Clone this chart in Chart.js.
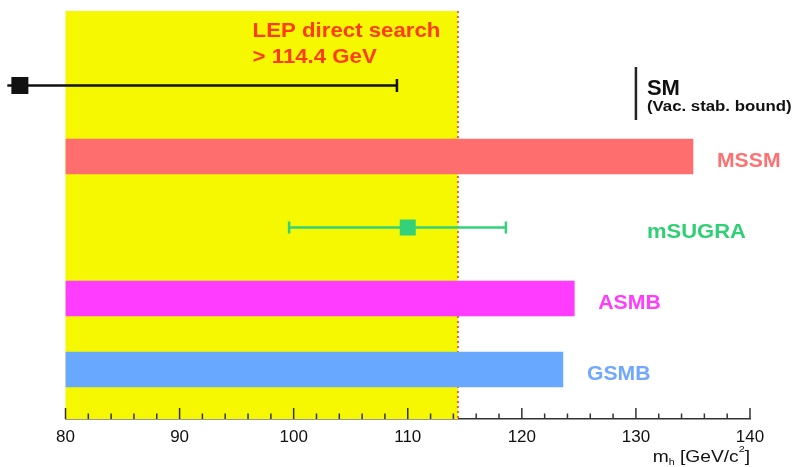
<!DOCTYPE html>
<html>
<head>
<meta charset="utf-8">
<script src="https://cdn.jsdelivr.net/npm/chart.js@4/dist/chart.umd.min.js"></script>
<style>
  html, body { margin: 0; padding: 0; background: #ffffff; }
  #wrap { width: 797px; height: 467px; position: relative; }
</style>
</head>
<body>
<div id="wrap"><canvas id="c" width="797" height="467"></canvas></div>
<script>
// ---------- data ----------
const rows = ['SM', 'MSSM', 'mSUGRA', 'ASMB', 'GSMB'];
const barModels = ['MSSM', 'ASMB', 'GSMB'];
const barStart = [80, 80, 80];
const barEnd = [135.0, 124.6, 123.6];
const pointModels = ['SM', 'mSUGRA'];
const pointValue = [76.0, 110.0];
const errLow = [74.9, 99.6];
const errHigh = [109.05, 118.6];
const smBound = 130;
const lepLimit = 114.4;
const xMin = 80, xMax = 140;
const majorStep = 10, minorStep = 2;
const lepText = ['LEP direct search', '> 114.4 GeV'];
const smSubText = '(Vac. stab. bound)';

// ---------- styles ----------
const rowColors = { SM: '#111111', MSSM: '#ff6e6e', mSUGRA: '#33d27a', ASMB: '#ff3cff', GSMB: '#68a8ff' };
const labelColors = { SM: '#111111', MSSM: '#ff7070', mSUGRA: '#2fcf74', ASMB: '#ff3cff', GSMB: '#70a8ff' };
const markerSize = { SM: 17, mSUGRA: 16 };
const FONT = "'Liberation Sans', Arial, Helvetica, sans-serif";

const rowIdx = m => rows.indexOf(m);

function stretchText(ctx, text, x, y, font, color, sx, align) {
  ctx.save();
  ctx.font = font;
  ctx.fillStyle = color;
  ctx.textBaseline = 'alphabetic';
  const w = ctx.measureText(text).width * sx;
  let x0 = x;
  if (align === 'right') x0 = x - w;
  else if (align === 'center') x0 = x - w / 2;
  ctx.translate(x0, y);
  ctx.scale(sx, 1);
  ctx.textAlign = 'left';
  ctx.fillText(text, 0, 0);
  ctx.restore();
  return w;
}

const decor = {
  id: 'decor',
  beforeDatasetsDraw(chart) {
    const { ctx, chartArea: a, scales: { x } } = chart;
    const x0 = x.getPixelForValue(xMin);
    const x1 = x.getPixelForValue(lepLimit);
    ctx.save();
    ctx.fillStyle = '#f5f800';
    ctx.fillRect(x0, a.top, x1 - x0, a.bottom - a.top);
    ctx.strokeStyle = '#ff5a3a';
    ctx.lineWidth = 2;
    ctx.setLineDash([2, 3]);
    ctx.beginPath();
    ctx.moveTo(x1, a.top);
    ctx.lineTo(x1, a.bottom);
    ctx.stroke();
    ctx.restore();
  },
  afterDatasetsDraw(chart) {
    const { ctx, chartArea: a, scales: { x, y } } = chart;
    ctx.save();
    // central-value markers (square), placed through the scales
    pointModels.forEach((m, i) => {
      const px = x.getPixelForValue(pointValue[i]);
      const py = y.getPixelForValue(rowIdx(m));
      const s = markerSize[m];
      ctx.fillStyle = rowColors[m];
      ctx.fillRect(px - s / 2, py - s / 2, s, s);
    });
    // upward ticks on the x axis
    ctx.strokeStyle = '#333333';
    ctx.lineWidth = 1.5;
    for (let v = xMin; v <= xMax + 1e-9; v += minorStep) {
      const px = x.getPixelForValue(v);
      const major = Math.abs(v / majorStep - Math.round(v / majorStep)) < 1e-6;
      ctx.beginPath();
      ctx.moveTo(px, a.bottom);
      ctx.lineTo(px, a.bottom - (major ? 11 : 5.5));
      ctx.stroke();
    }
    // SM vacuum stability bound marker
    const ySM = y.getPixelForValue(rowIdx('SM'));
    const xSM = x.getPixelForValue(smBound);
    ctx.strokeStyle = '#222222';
    ctx.lineWidth = 2.5;
    ctx.beginPath();
    ctx.moveTo(xSM, ySM - 18.5);
    ctx.lineTo(xSM, ySM + 34.5);
    ctx.stroke();
    ctx.restore();

    // LEP text
    const lx = x.getPixelForValue(96.4);
    stretchText(ctx, lepText[0], lx, a.top + 26, 'bold 19.5px ' + FONT, '#ff3b14', 1.14, 'left');
    stretchText(ctx, lepText[1], lx, a.top + 52, 'bold 19.5px ' + FONT, '#ff3b14', 1.14, 'left');

    // row labels
    stretchText(ctx, 'SM', xSM + 11, ySM + 9.5, 'bold 22px ' + FONT, labelColors.SM, 1.0, 'left');
    stretchText(ctx, smSubText, xSM + 11, ySM + 25.5, 'bold 14px ' + FONT, labelColors.SM, 1.2, 'left');
    const yMS = y.getPixelForValue(rowIdx('mSUGRA'));
    stretchText(ctx, 'mSUGRA', xSM + 11, yMS + 11, 'bold 20px ' + FONT, labelColors.mSUGRA, 1.1, 'left');
    barModels.forEach((m, i) => {
      const px = x.getPixelForValue(barEnd[i]) + 24;
      const py = y.getPixelForValue(rowIdx(m)) + 10.5;
      stretchText(ctx, m, px, py, 'bold 20px ' + FONT, labelColors[m], 1.06, 'left');
    });

    // axis title m_h [GeV/c^2], right aligned at axis end
    const right = x.getPixelForValue(xMax);
    const base = 462;
    const parts = [
      { t: 'm', f: '16px ' + FONT, dy: 0 },
      { t: 'h', f: '9px ' + FONT, dy: 3 },
      { t: ' [GeV/c', f: '16px ' + FONT, dy: 0 },
      { t: '2', f: '9px ' + FONT, dy: -10 },
      { t: ']', f: '16px ' + FONT, dy: 0 }
    ];
    const sx = 1.2;
    let total = 0;
    ctx.save();
    parts.forEach(p => { ctx.font = p.f; p.w = ctx.measureText(p.t).width * sx; total += p.w; });
    ctx.restore();
    let cx = right - total;
    parts.forEach(p => { stretchText(ctx, p.t, cx, base + p.dy, p.f, '#111111', sx, 'left'); cx += p.w; });
  }
};

const datasets = [
  {
    type: 'bar',
    indexAxis: 'y',
    data: barModels.map((m, i) => ({ x: [barStart[i], barEnd[i]], y: rowIdx(m) })),
    backgroundColor: barModels.map(m => rowColors[m]),
    borderWidth: 0,
    borderSkipped: false,
    barThickness: 35,
    order: 3
  }
];
pointModels.forEach((m, i) => {
  datasets.push({
    type: 'line',
    data: [{ x: errLow[i], y: rowIdx(m) }, { x: errHigh[i], y: rowIdx(m) }],
    borderColor: rowColors[m],
    borderWidth: 2.5,
    pointStyle: 'line',
    rotation: 90,
    pointRadius: m === 'SM' ? [0, 6.5] : [6, 6],
    pointBorderWidth: 2.5,
    pointBorderColor: rowColors[m],
    pointHoverRadius: 0,
    fill: false,
    clip: false,
    order: 2
  });
});

new Chart(document.getElementById('c'), {
  type: 'scatter',
  data: { datasets },
  plugins: [decor],
  options: {
    responsive: false,
    animation: false,
    events: [],
    layout: { padding: { left: 65.5, right: 47, top: 11, bottom: 0 } },
    plugins: { legend: { display: false }, tooltip: { enabled: false } },
    scales: {
      x: {
        type: 'linear',
        min: xMin, max: xMax,
        offset: false,
        afterFit(scale) { scale.height = 48; },
        grid: { display: false, drawTicks: false },
        border: { display: true, color: '#333333', width: 1.5 },
        ticks: {
          stepSize: majorStep,
          autoSkip: false,
          maxRotation: 0,
          padding: 8,
          color: '#111111',
          font: { family: FONT, size: 17 }
        }
      },
      y: {
        type: 'linear',
        display: false,
        reverse: true,
        offset: false,
        min: -1.049, max: 4.697
      }
    }
  }
});
</script>
</body>
</html>
